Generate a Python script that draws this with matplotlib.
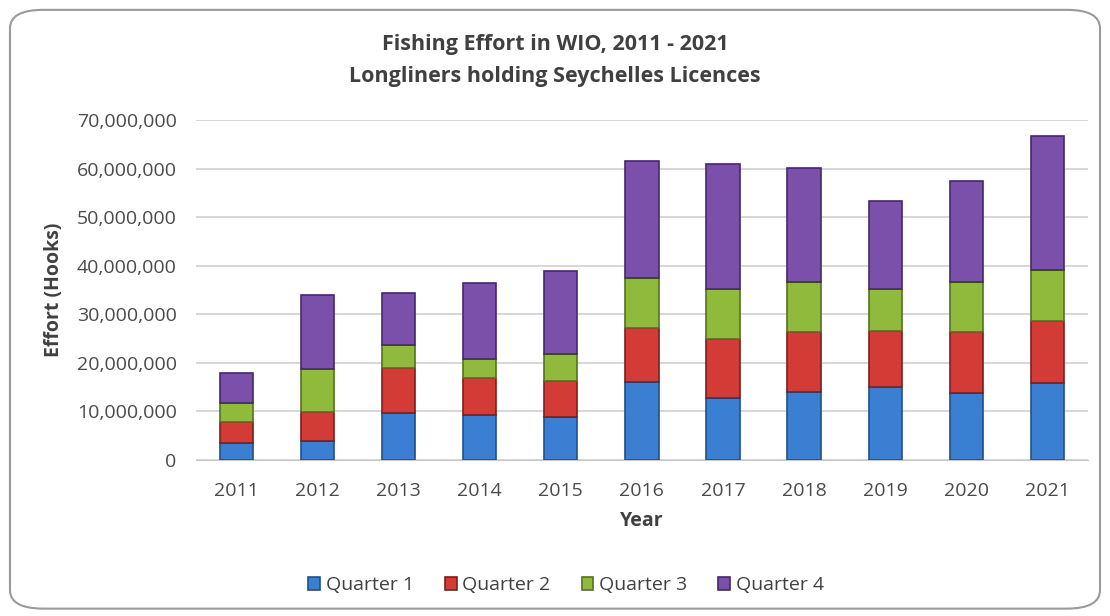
import numpy as np
import matplotlib.pyplot as plt
from matplotlib.patches import FancyBboxPatch
from matplotlib.ticker import FuncFormatter

years = ['2011', '2012', '2013', '2014', '2015', '2016', '2017', '2018', '2019', '2020', '2021']
# effort per quarter, hooks
q1 = [3.5e6, 3.9e6, 9.7e6, 9.3e6, 8.9e6, 16.1e6, 12.8e6, 14.0e6, 15.0e6, 13.8e6, 15.9e6]
q2 = [4.3e6, 6.0e6, 9.2e6, 7.6e6, 7.4e6, 11.1e6, 12.1e6, 12.4e6, 11.6e6, 12.6e6, 12.7e6]
q3 = [3.9e6, 8.8e6, 4.8e6, 3.9e6, 5.5e6, 10.3e6, 10.3e6, 10.2e6, 8.6e6, 10.3e6, 10.5e6]
q4 = [6.2e6, 15.3e6, 10.7e6, 15.6e6, 17.1e6, 24.1e6, 25.7e6, 23.5e6, 18.1e6, 20.7e6, 27.6e6]
series = ['Quarter 1', 'Quarter 2', 'Quarter 3', 'Quarter 4']
colors = ['#3b7fd3', '#d23b36', '#8fba3c', '#7b50aa']
edges = ['#1f4f8a', '#7e1f1c', '#55721f', '#46296b']

plt.rcParams['font.family'] = ['Open Sans', 'DejaVu Sans']

fig = plt.figure(figsize=(11.1, 6.16), dpi=100)
frame = FancyBboxPatch((0.009, 0.012), 0.982, 0.972, boxstyle='round,pad=0,rounding_size=0.03',
                       transform=fig.transFigure, facecolor='white', edgecolor='#9a9a9a',
                       linewidth=1.5, zorder=-10)
fig.patches.append(frame)

ax = fig.add_axes([0.1766, 0.2532, 0.8034, 0.5518])
ax.set_zorder(1)
ax.patch.set_alpha(0)
x = np.arange(len(years))
bottom = np.zeros(len(years))
for vals, name, c, e in zip([q1, q2, q3, q4], series, colors, edges):
    ax.bar(x, vals, 0.41, bottom=bottom, color=c, edgecolor=e, linewidth=1.2, label=name, zorder=3)
    bottom += np.array(vals)

ax.set_ylim(0, 70e6)
ax.set_xlim(-0.5, len(years) - 0.5)
ax.set_yticks(np.arange(0, 70e6 + 1, 10e6))
ax.yaxis.set_major_formatter(FuncFormatter(lambda v, p: f'{int(v):,}'))
ax.set_xticks(x)
ax.set_xticklabels(years)
ax.grid(axis='y', color='#d0d0d0', linewidth=1.2, zorder=0)
for s in ['top', 'right', 'left']:
    ax.spines[s].set_visible(False)
ax.spines['bottom'].set_color('#c8c8c8')
ax.tick_params(axis='both', length=0, labelsize=14, colors='#4a4a4a')
ax.tick_params(axis='x', pad=16)
ax.tick_params(axis='y', pad=14)
ax.set_xlabel('Year', fontsize=14, fontweight='bold', color='#404040', labelpad=8)
ax.set_ylabel('Effort (Hooks)', fontsize=14, fontweight='bold', color='#404040', labelpad=9)

fig.text(0.5, 0.928, 'Fishing Effort in WIO, 2011 - 2021', ha='center', va='center',
         fontsize=15.5, fontweight='bold', color='#404040')
fig.text(0.5, 0.876, 'Longliners holding Seychelles Licences', ha='center', va='center',
         fontsize=15.5, fontweight='bold', color='#404040')

ax.legend(loc='center', bbox_to_anchor=(0.51, 0.05), bbox_transform=fig.transFigure, frameon=False,
          ncol=4, fontsize=14, handlelength=0.6, handleheight=0.6, handletextpad=0.3,
          columnspacing=1.6, labelcolor='#404040')

fig.savefig('out.png', dpi=100)
